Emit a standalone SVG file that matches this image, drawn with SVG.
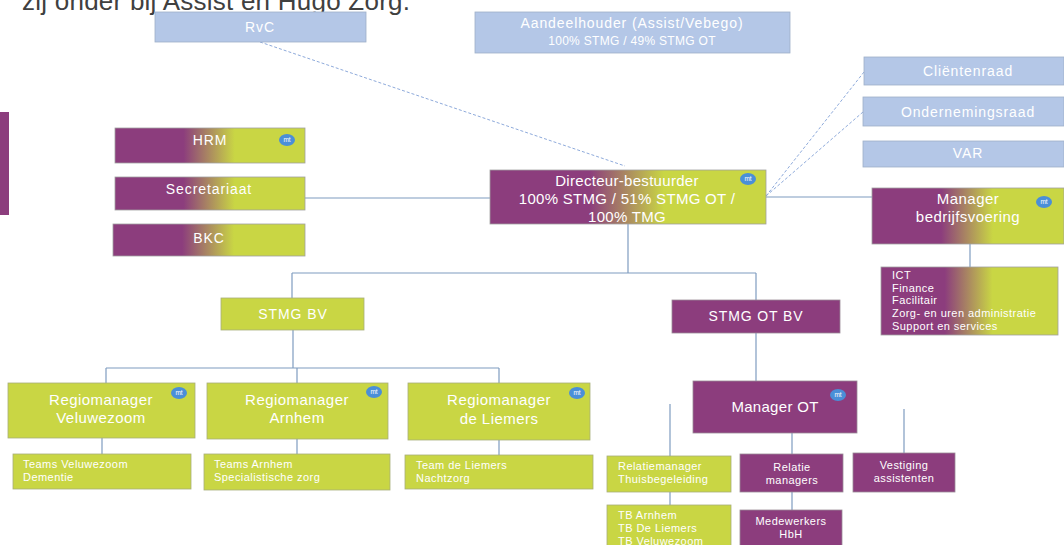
<svg xmlns="http://www.w3.org/2000/svg" width="1064" height="545" viewBox="0 0 1064 545">
<defs>
<linearGradient id="pg" x1="0" y1="0" x2="1" y2="0">
<stop offset="0" stop-color="#8c3d7d"/>
<stop offset="0.36" stop-color="#8c3d7d"/>
<stop offset="0.63" stop-color="#c9d644"/>
<stop offset="1" stop-color="#c9d644"/>
</linearGradient>
<style>
text{font-family:"Liberation Sans",Arial,sans-serif;fill:#fff}
.c{text-anchor:middle}
.blue{fill:#b4c7e7;stroke:#9fb0c8;stroke-width:0.8}
.grn{fill:#c9d644;stroke:#a8ae7a;stroke-width:0.8}
.pur{fill:#8c3d7d;stroke:#9a8a96;stroke-width:0.8}
.grd{fill:url(#pg);stroke:#a0a0a0;stroke-width:0.8}
.ln{stroke:#7f9cc0;stroke-width:1.2;fill:none}
.ds{stroke:#8eaadb;stroke-width:1;stroke-dasharray:3 2;fill:none}
.mt{fill:#4a8fd8}
.mtt{font-size:6.5px;text-anchor:middle}
.f14{font-size:14px;letter-spacing:0.9px}
.f12{font-size:12px;letter-spacing:0.3px}
.f15{font-size:15px;letter-spacing:0.3px}
.f15w{font-size:15px;letter-spacing:0.45px}
.f11{font-size:11px;letter-spacing:0.45px}
</style>
</defs>
<rect width="1064" height="545" fill="#fff"/>
<text x="22" y="10" style="font-size:26px;fill:#404040" textLength="388" lengthAdjust="spacing">zij onder bij Assist en Hugo Zorg.</text>
<rect x="0" y="112" width="9" height="103" fill="#8c3d7d"/>

<g id="connectors">
<path class="ds" d="M260 42 L625 166"/>
<path class="ds" d="M864 72 L766 196"/>
<path class="ds" d="M863 112 L766 196"/>
<path class="ln" d="M305 198 H490"/>
<path class="ln" d="M766 197 H872"/>
<path class="ln" d="M628 224 V273"/>
<path class="ln" d="M292 273 H756"/>
<path class="ln" d="M292 273 V298"/>
<path class="ln" d="M756 273 V300"/>
<path class="ln" d="M970 244 V267"/>
<path class="ln" d="M293 330 V368"/>
<path class="ln" d="M106 368 H499"/>
<path class="ln" d="M106 368 V383"/>
<path class="ln" d="M297 368 V383"/>
<path class="ln" d="M499 368 V383"/>
<path class="ln" d="M102 438 V454"/>
<path class="ln" d="M297 439 V454"/>
<path class="ln" d="M499 440 V455"/>
<path class="ln" d="M756 333 V381"/>
<path class="ln" d="M670 404 V456"/>
<path class="ln" d="M792 433 V454"/>
<path class="ln" d="M904 409 V453"/>
<path class="ln" d="M670 492 V505"/>
<path class="ln" d="M792 492 V510"/>
</g>

<g id="rvc">
<rect class="blue" x="155" y="12" width="211" height="30"/>
<text class="c f14" x="260" y="32">RvC</text>
</g>
<g id="aandeelhouder">
<rect class="blue" x="475" y="12" width="315" height="41"/>
<text class="c f14" x="632" y="28">Aandeelhouder (Assist/Vebego)</text>
<text class="c f12" x="632" y="45">100% STMG / 49% STMG OT</text>
</g>
<g id="clientenraad">
<rect class="blue" x="864" y="57" width="200" height="28"/>
<text class="c f14" x="968" y="76">Cliëntenraad</text>
</g>
<g id="ondernemingsraad">
<rect class="blue" x="863" y="97" width="201" height="29"/>
<text class="c f14" x="968" y="117">Ondernemingsraad</text>
</g>
<g id="var">
<rect class="blue" x="863" y="141" width="201" height="26"/>
<text class="c f14" x="968" y="158">VAR</text>
</g>

<g id="hrm">
<rect class="grd" x="115" y="128" width="190" height="35"/>
<text class="c f14" x="210" y="145">HRM</text>
<ellipse class="mt" cx="287" cy="140" rx="8" ry="6"/><text class="mtt" x="287" y="142.3">mt</text>
</g>
<g id="secretariaat">
<rect class="grd" x="115" y="177" width="190" height="33"/>
<text class="c f14" x="209" y="194">Secretariaat</text>
</g>
<g id="bkc">
<rect class="grd" x="113" y="224" width="192" height="32"/>
<text class="c f14" x="209" y="243">BKC</text>
</g>

<g id="directeur">
<rect class="grd" x="490" y="170" width="276" height="54"/>
<text class="c f15" x="627" y="186">Directeur-bestuurder</text>
<text class="c f15" x="627" y="204">100% STMG / 51% STMG OT /</text>
<text class="c f15" x="627" y="221.5">100% TMG</text>
<ellipse class="mt" cx="748" cy="179" rx="8" ry="6"/><text class="mtt" x="748" y="181.3">mt</text>
</g>

<g id="manager-bedrijfsvoering">
<rect class="grd" x="872" y="188" width="192" height="56"/>
<text class="c f15w" x="968" y="204">Manager</text>
<text class="c f15w" x="968" y="222">bedrijfsvoering</text>
<ellipse class="mt" cx="1044" cy="202" rx="8" ry="6"/><text class="mtt" x="1044" y="204.3">mt</text>
</g>
<g id="bedrijfsvoering-afdelingen">
<rect class="grd" x="881" y="267" width="177" height="68"/>
<text class="f11" x="892" y="279">ICT</text>
<text class="f11" x="892" y="291.7">Finance</text>
<text class="f11" x="892" y="304.4">Facilitair</text>
<text class="f11" x="892" y="317.1">Zorg- en uren administratie</text>
<text class="f11" x="892" y="329.8">Support  en services</text>
</g>

<g id="stmg-bv">
<rect class="grn" x="221" y="298" width="143" height="32"/>
<text class="c f14" x="293" y="319">STMG BV</text>
</g>
<g id="stmg-ot-bv">
<rect class="pur" x="672" y="300" width="168" height="33"/>
<text class="c f14" x="756" y="321">STMG OT BV</text>
</g>

<g id="rm-veluwezoom">
<rect class="grn" x="8" y="383" width="187" height="55"/>
<text class="c f15w" x="101" y="405">Regiomanager</text>
<text class="c f15w" x="101" y="423">Veluwezoom</text>
<ellipse class="mt" cx="179" cy="393" rx="8" ry="6"/><text class="mtt" x="179" y="395.3">mt</text>
</g>
<g id="rm-arnhem">
<rect class="grn" x="207" y="383" width="181" height="56"/>
<text class="c f15w" x="297" y="405">Regiomanager</text>
<text class="c f15w" x="297" y="423">Arnhem</text>
<ellipse class="mt" cx="374" cy="392" rx="8" ry="6"/><text class="mtt" x="374" y="394.3">mt</text>
</g>
<g id="rm-liemers">
<rect class="grn" x="408" y="383" width="182" height="57"/>
<text class="c f15w" x="499" y="405">Regiomanager</text>
<text class="c f15w" x="499" y="424">de Liemers</text>
<ellipse class="mt" cx="577" cy="393" rx="8" ry="6"/><text class="mtt" x="577" y="395.3">mt</text>
</g>

<g id="teams-veluwezoom">
<rect class="grn" x="13" y="454" width="178" height="35"/>
<text class="f11" x="23" y="468">Teams Veluwezoom</text>
<text class="f11" x="23" y="481">Dementie</text>
</g>
<g id="teams-arnhem">
<rect class="grn" x="204" y="454" width="186" height="36"/>
<text class="f11" x="214" y="468">Teams Arnhem</text>
<text class="f11" x="214" y="481">Specialistische zorg</text>
</g>
<g id="team-liemers">
<rect class="grn" x="405" y="455" width="188" height="34"/>
<text class="f11" x="416" y="469">Team de Liemers</text>
<text class="f11" x="416" y="482">Nachtzorg</text>
</g>

<g id="manager-ot">
<rect class="pur" x="693" y="381" width="164" height="52"/>
<text class="c f15" x="775" y="412">Manager OT</text>
<ellipse class="mt" cx="838" cy="395" rx="8" ry="6"/><text class="mtt" x="838" y="397.3">mt</text>
</g>
<g id="relatiemanager-tb">
<rect class="grn" x="607" y="456" width="124" height="36"/>
<text class="f11" x="618" y="469.5">Relatiemanager</text>
<text class="f11" x="618" y="482.5">Thuisbegeleiding</text>
</g>
<g id="tb-teams">
<rect class="grn" x="607" y="505" width="124" height="45"/>
<text class="f11" x="618" y="518.5">TB Arnhem</text>
<text class="f11" x="618" y="531.5">TB De Liemers</text>
<text class="f11" x="618" y="544.5">TB Veluwezoom</text>
</g>
<g id="relatie-managers">
<rect class="pur" x="740" y="454" width="103" height="38"/>
<text class="c f11" x="792" y="470.5">Relatie</text>
<text class="c f11" x="792" y="483.5">managers</text>
</g>
<g id="medewerkers-hbh">
<rect class="pur" x="740" y="510" width="102" height="40"/>
<text class="c f11" x="791" y="525">Medewerkers</text>
<text class="c f11" x="791" y="538">HbH</text>
</g>
<g id="vestiging-assistenten">
<rect class="pur" x="853" y="453" width="102" height="39"/>
<text class="c f11" x="904" y="469">Vestiging</text>
<text class="c f11" x="904" y="482">assistenten</text>
</g>
</svg>
